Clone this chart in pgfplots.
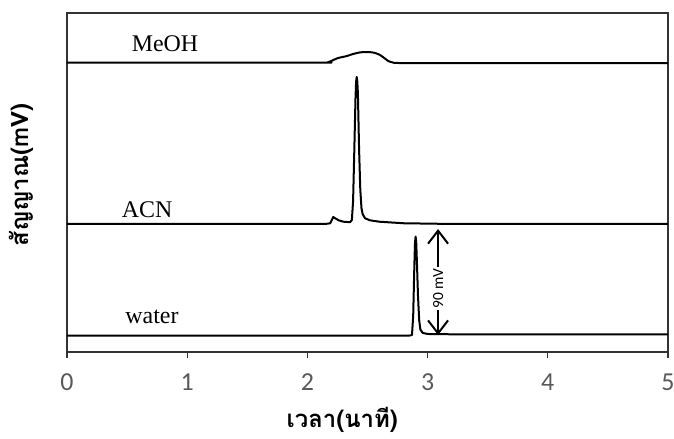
\documentclass[border=0pt]{standalone}
\usepackage{fontspec}
\setmainfont{Carlito}
\newfontfamily\serif{Liberation Serif}
\newfontfamily\thai[Script=Thai]{Loma}
\usepackage{pgfplots}
\pgfplotsset{compat=1.18}
\usetikzlibrary{arrows.meta,calc}
\definecolor{ticklab}{HTML}{595959}

\begin{document}
\begin{tikzpicture}
\useasboundingbox (-67bp,-87bp) rectangle (607bp,352bp);
\begin{axis}[
  name=ax, at={(0,0)}, anchor=south west,
  scale only axis, width=601bp, height=339bp,
  xmin=0, xmax=5, ymin=0, ymax=287.8,
  xtick={0,1,2,3,4,5}, ytick=\empty,
  xtick pos=bottom, tick align=outside,
  major tick length=6bp,
  axis line style={black!80, line width=1.2bp},
  every tick/.style={black!80, line width=1.2bp},
  /pgf/number format/assume math mode=true,
  xticklabel style={font=\fontsize{26}{30}\selectfont, text=ticklab, yshift=-12bp},
  clip=false,
  trace/.style={black, line width=2bp, line join=round},
]
% methanol: broad low hump
\addplot[trace, smooth, tension=0.5] coordinates {
  (0,245.6) (1.0,245.6) (2.12,245.6) (2.17,246.0) (2.21,247.6) (2.25,249.4)
  (2.29,250.4) (2.33,251.3) (2.38,253.0) (2.44,254.4) (2.50,254.6) (2.55,254.2)
  (2.60,252.4) (2.64,249.5) (2.67,247.2) (2.71,245.8) (2.80,245.3)
  (3.5,245.2) (5,245.2)
};
% acetonitrile: small shoulder then sharp peak
\addplot[trace] coordinates {
  (0,108.7) (2.15,108.7) (2.19,109.3) (2.205,112.5) (2.215,114.6) (2.23,113.6)
  (2.26,111.8) (2.30,110.6) (2.355,110.2) (2.37,112.0) (2.38,128)
  (2.39,170) (2.40,215) (2.405,229) (2.41,233.5) (2.415,230) (2.42,220)
  (2.43,172) (2.44,138) (2.45,122) (2.46,117) (2.48,113.5) (2.52,111.8)
  (2.60,110.6) (2.80,109.3) (3.2,108.7) (5,108.7)
};
% water: single sharp peak near 2.9 min
\addplot[trace] coordinates {
  (0,14.0) (2.85,14.0) (2.87,14.4) (2.88,30) (2.89,74) (2.895,92)
  (2.90,98.0) (2.905,94) (2.91,80) (2.92,48) (2.93,27) (2.94,19)
  (2.96,16.2) (3.0,15.3) (3.3,14.9) (5,14.9)
};
\node[font=\serif\fontsize{24}{28}\selectfont, anchor=base] at (axis cs:0.815,254.7) {MeOH};
\node[font=\serif\fontsize{24}{28}\selectfont, anchor=base] at (axis cs:0.666,114.6) {ACN};
\node[font=\serif\fontsize{24}{28}\selectfont, anchor=base] at (axis cs:0.707,24.6) {water};
% scale bar
\draw[line width=2bp, {Straight Barb[length=13bp,width=20bp]}-{Straight Barb[length=13bp,width=20bp]}]
  (axis cs:3.087,14.4) -- (axis cs:3.087,104.4);
\node[fill=white, inner sep=1.5bp, rotate=90, font=\fontsize{15.5}{18}\selectfont]
  at (axis cs:3.087,54) {90 mV};
% axis titles
\node[font=\thai\bfseries\fontsize{24}{28}\selectfont, rotate=90]
  at ($(rel axis cs:0,0.522)+(-46bp,0)$) {สัญญาณ(mV)};
\node[font=\thai\bfseries\fontsize{24}{28}\selectfont, anchor=base, inner sep=0pt]
  at ($(rel axis cs:0.458,0)+(0,-75bp)$) {เวลา(นาที)};
\end{axis}
\end{tikzpicture}
\end{document}
